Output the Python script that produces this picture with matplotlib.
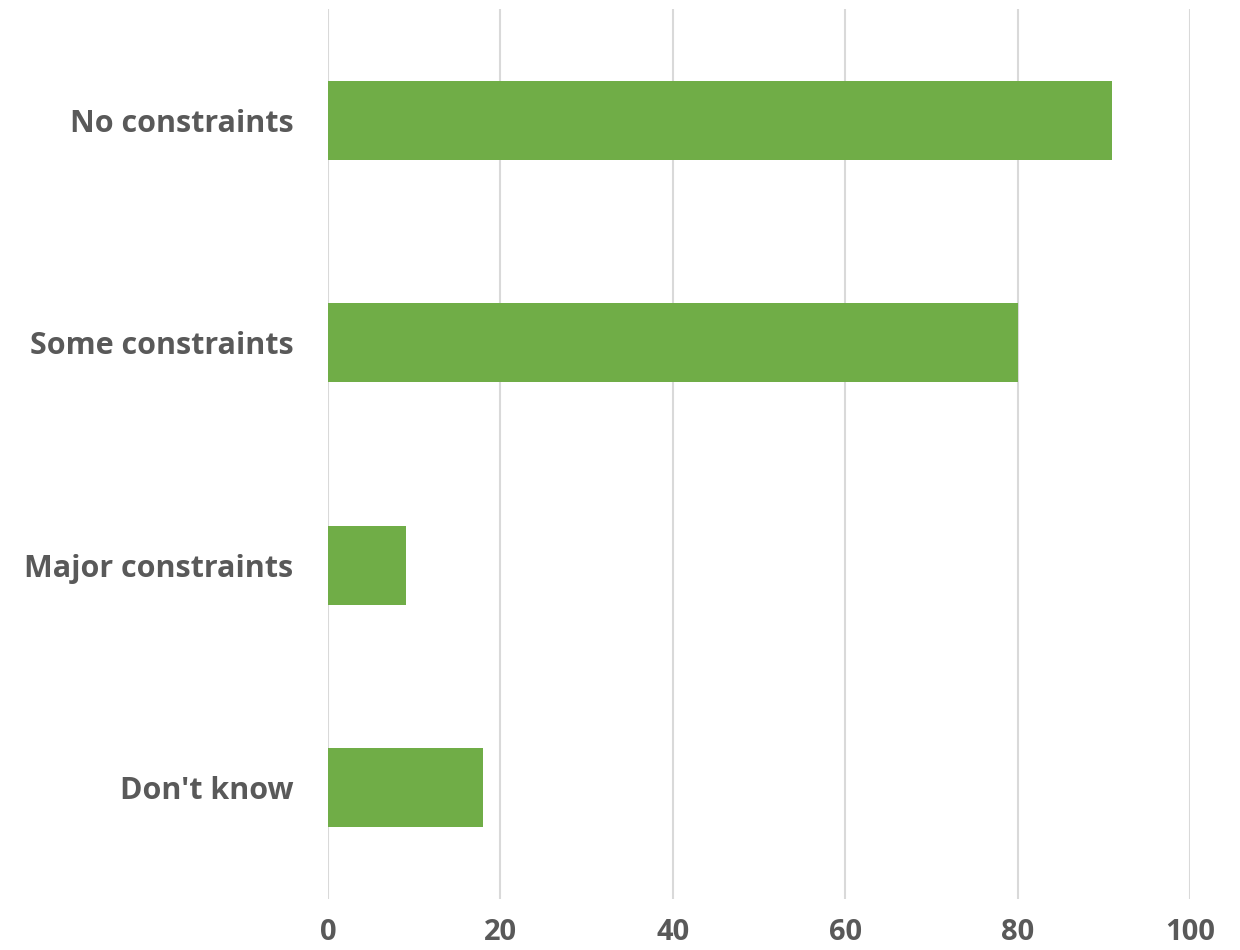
import matplotlib
matplotlib.use("Agg")
import matplotlib.pyplot as plt

categories = ["No constraints", "Some constraints", "Major constraints", "Don't know"]
values = [91, 80, 9, 18]
x_ticks = [0, 20, 40, 60, 80, 100]

bar_color = "#70AD47"
grid_color = "#D9D9D9"
text_color = "#595959"

fig = plt.figure(figsize=(12.4, 9.5), dpi=100)
ax = fig.add_axes([0.2645, 0.0537, 0.6952, 0.9368])

positions = list(range(len(categories)))
ax.barh(positions, values, height=0.355, color=bar_color, zorder=3)

ax.set_ylim(len(categories) - 0.5, -0.5)
ax.set_xlim(0, 100)
ax.set_xticks(x_ticks)
ax.set_yticks(positions)
ax.set_yticklabels(categories)

ax.grid(axis="x", color=grid_color, linewidth=1.5, zorder=0)
ax.grid(axis="y", visible=False)
for s in ax.spines.values():
    s.set_visible(False)

ax.tick_params(axis="both", length=0, labelcolor=text_color)
ax.tick_params(axis="y", pad=25)
ax.tick_params(axis="x", pad=14)
for lbl in ax.get_yticklabels():
    lbl.set_fontfamily("Open Sans")
    lbl.set_fontweight("bold")
    lbl.set_fontsize(22)
for lbl in ax.get_xticklabels():
    lbl.set_fontfamily("Open Sans")
    lbl.set_fontweight("bold")
    lbl.set_fontsize(21)

fig.savefig("out.png", dpi=100, facecolor="white")
